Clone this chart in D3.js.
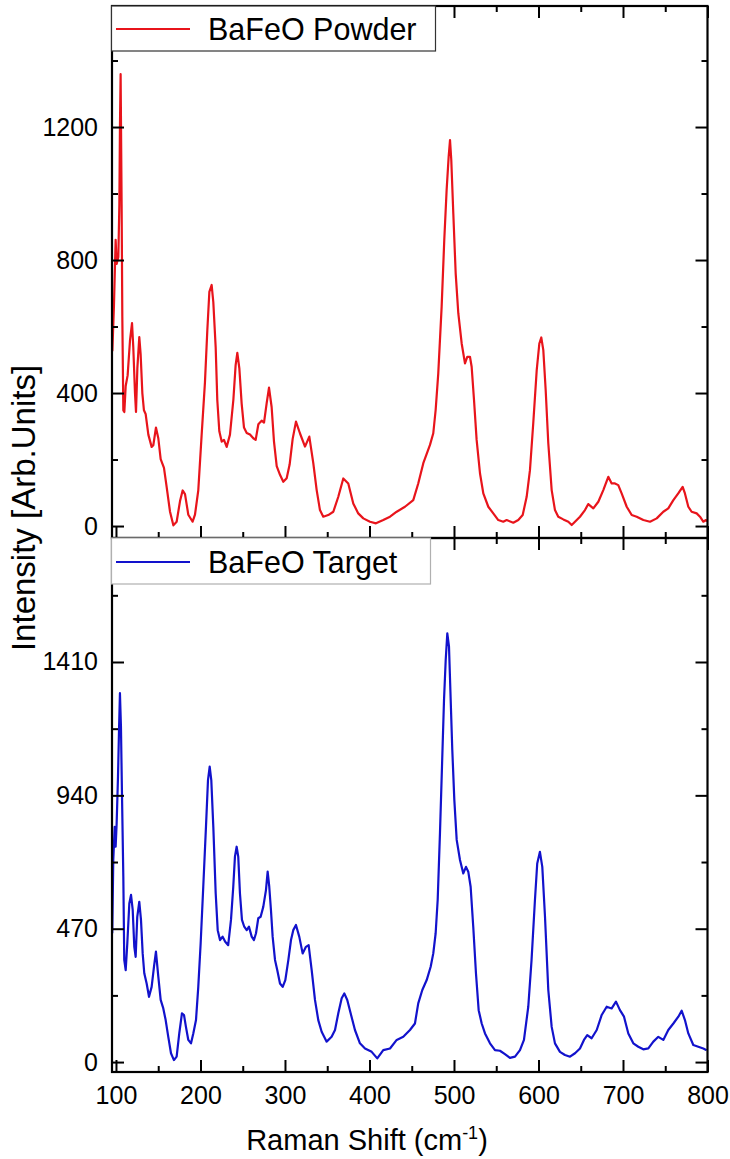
<!DOCTYPE html>
<html>
<head>
<meta charset="utf-8">
<script src="https://cdn.jsdelivr.net/npm/d3@7"></script>
<style>
  html, body { margin: 0; padding: 0; background: #fff; }
  svg { display: block; }
  text { font-family: "Liberation Sans", Arial, sans-serif; fill: #000; }
</style>
</head>
<body>
<svg id="chart" width="730" height="1159"></svg>
<script>
// Raman spectrum of BaFeO powder (upper panel)
const powderShift = [95.7, 97.6, 99.6, 100.8, 102.8, 104.0, 104.7, 105.5, 106.7, 107.5, 108.7, 109.9, 111.5, 113.8, 116.6, 119.0, 120.5, 122.5, 123.7, 125.3, 127.6, 129.2, 131.2, 133.1, 135.1, 138.3, 142.2, 144.2, 147.3, 150.1, 152.9, 156.8, 160.0, 163.9, 167.9, 171.8, 175.8, 178.9, 181.7, 185.6, 190.7, 193.5, 197.4, 201.4, 205.3, 208.1, 210.5, 213.2, 215.2, 218.0, 219.9, 222.3, 225.1, 227.8, 231.0, 234.9, 238.9, 241.6, 243.6, 246.0, 248.7, 251.5, 254.7, 258.6, 262.5, 265.3, 268.5, 272.4, 275.2, 278.3, 281.1, 284.2, 287.0, 290.2, 294.1, 298.0, 302.0, 305.5, 309.1, 313.0, 317.7, 323.7, 328.8, 333.5, 337.5, 341.4, 345.3, 351.2, 357.2, 363.1, 369.0, 374.9, 380.8, 386.7, 392.7, 400.6, 407.7, 416.3, 424.3, 432.2, 442.0, 451.8, 457.7, 463.7, 471.6, 475.5, 478.3, 481.4, 485.4, 488.5, 491.3, 493.7, 495.3, 496.8, 499.2, 502.0, 505.1, 509.1, 513.0, 515.7, 518.9, 520.9, 523.7, 526.8, 530.8, 534.7, 540.6, 546.5, 552.4, 558.3, 562.3, 570.2, 576.1, 581.3, 586.0, 589.9, 593.8, 597.9, 601.0, 603.3, 605.7, 608.5, 611.6, 615.6, 619.5, 623.4, 629.4, 635.3, 639.3, 643.2, 649.1, 655.0, 658.9, 664.9, 670.8, 676.7, 682.6, 686.6, 690.5, 694.4, 698.4, 704.4, 710.3, 716.2, 724.1, 732.0, 739.9, 747.7, 753.6, 759.6, 765.4, 770.6, 773.3, 777.3, 781.2, 787.2, 791.1, 795.0, 798.2, 800.0];
const powderIntensity = [526, 662, 861, 788, 809, 966, 1197, 1359, 966, 631, 348, 343, 421, 453, 558, 610, 537, 400, 343, 474, 568, 516, 400, 348, 337, 275, 238, 243, 296, 264, 201, 175, 117, 44, 2, 13, 75, 107, 96, 34, 13, 34, 107, 275, 432, 589, 704, 725, 673, 537, 379, 285, 254, 259, 238, 275, 379, 484, 521, 474, 369, 296, 280, 275, 264, 259, 306, 317, 311, 369, 416, 358, 254, 180, 154, 133, 144, 185, 262, 314, 279, 239, 269, 189, 108, 48, 28, 33, 43, 88, 143, 128, 68, 38, 23, 13, 8, 18, 28, 43, 58, 78, 128, 189, 244, 279, 349, 459, 660, 860, 1011, 1111, 1161, 1101, 940, 760, 640, 549, 489, 509, 509, 479, 379, 259, 158, 98, 58, 38, 18, 13, 18, 10, 18, 33, 88, 168, 309, 469, 549, 567, 529, 409, 249, 108, 48, 28, 20, 13, 3, 13, 28, 48, 66, 53, 73, 108, 148, 128, 128, 123, 98, 58, 33, 28, 18, 13, 23, 43, 53, 78, 98, 118, 98, 58, 43, 38, 28, 13, 18, 15];

// Raman spectrum of BaFeO target (lower panel)
const targetShift = [95.6, 96.8, 98.5, 99.6, 100.8, 102.4, 103.6, 104.7, 105.9, 107.1, 108.7, 109.8, 111.5, 113.4, 115.8, 117.8, 119.8, 121.7, 123.3, 125.2, 127.6, 129.6, 131.6, 133.5, 136.3, 139.1, 142.2, 145.0, 147.3, 150.1, 152.9, 156.0, 158.8, 161.9, 165.1, 168.6, 171.8, 174.9, 178.1, 180.5, 182.8, 185.6, 188.8, 191.5, 194.7, 197.4, 200.2, 203.3, 206.5, 208.9, 210.9, 212.8, 215.2, 218.0, 220.4, 223.1, 226.2, 229.3, 232.8, 236.1, 238.8, 240.8, 242.8, 244.7, 246.7, 249.1, 251.8, 254.7, 257.4, 260.6, 263.3, 265.7, 268.4, 271.2, 274.3, 277.5, 279.5, 281.4, 283.4, 285.4, 288.2, 290.9, 294.1, 297.3, 300.4, 304.0, 307.1, 309.8, 313.0, 316.9, 320.9, 324.8, 328.0, 331.6, 335.5, 339.4, 343.4, 349.3, 355.2, 359.2, 363.1, 367.1, 370.2, 373.7, 377.7, 382.8, 388.7, 394.7, 402.6, 409.2, 416.3, 424.3, 432.2, 440.0, 447.9, 453.8, 457.7, 462.5, 467.7, 472.4, 475.5, 478.3, 480.7, 483.4, 485.8, 488.2, 490.2, 492.1, 494.1, 496.1, 498.0, 500.4, 503.2, 507.1, 511.0, 514.2, 516.9, 519.7, 522.8, 526.0, 529.2, 532.8, 536.7, 542.6, 548.5, 554.4, 560.3, 566.2, 572.2, 578.1, 582.8, 587.9, 591.8, 595.8, 598.5, 601.7, 604.5, 607.7, 611.6, 615.6, 619.5, 625.4, 631.3, 637.3, 643.2, 649.1, 653.8, 657.7, 662.9, 668.9, 674.8, 680.7, 686.6, 691.7, 696.4, 701.2, 706.3, 712.2, 718.1, 724.0, 730.0, 735.9, 741.8, 747.7, 753.6, 759.6, 765.5, 769.4, 773.3, 777.3, 783.2, 789.1, 795.0, 799.0];
const targetIntensity = [454, 712, 829, 759, 841, 1006, 1170, 1300, 1182, 947, 653, 360, 324, 418, 559, 589, 536, 406, 371, 512, 565, 501, 383, 313, 277, 230, 265, 336, 389, 301, 219, 189, 148, 89, 31, 7, 19, 101, 172, 166, 124, 78, 66, 101, 148, 265, 418, 618, 829, 994, 1041, 994, 829, 595, 465, 430, 442, 424, 412, 501, 618, 724, 759, 724, 595, 501, 477, 465, 477, 442, 430, 454, 507, 512, 547, 606, 671, 618, 536, 442, 360, 324, 277, 265, 289, 360, 430, 465, 483, 442, 383, 406, 412, 324, 219, 148, 107, 72, 89, 113, 172, 225, 242, 219, 172, 113, 66, 48, 36, 13, 42, 48, 78, 89, 113, 136, 207, 254, 289, 336, 383, 454, 571, 806, 1041, 1276, 1417, 1511, 1464, 1276, 1100, 924, 783, 712, 665, 688, 671, 618, 477, 313, 183, 136, 101, 66, 42, 40, 28, 15, 19, 42, 78, 195, 360, 571, 700, 741, 688, 512, 254, 124, 66, 36, 25, 19, 31, 48, 78, 95, 84, 113, 166, 195, 189, 213, 183, 160, 101, 66, 54, 45, 48, 72, 89, 78, 113, 136, 160, 181, 148, 101, 60, 54, 48, 42];

// Axis ticks
const shiftTicks = [100, 200, 300, 400, 500, 600, 700, 800];
const shiftMinorTicks = [150, 250, 350, 450, 550, 650, 750];
const powderTicks = [0, 400, 800, 1200];
const powderMinorTicks = [200, 600, 1000, 1400];
const targetTicks = [0, 470, 940, 1410];
const targetMinorTicks = [235, 705, 1175, 1645];

const seriesNames = ["BaFeO Powder", "BaFeO Target"];
const seriesColors = ["#e8141b", "#1212cc"];

const svg = d3.select("#chart");
const fmt = d3.format("d");

const plotLeft = 112, plotRight = 707.5;
const x = d3.scaleLinear().domain([95.3, 800]).range([plotLeft, plotRight]);

const panels = [
  {
    top: 6, bottom: 538,
    y: d3.scaleLinear().domain([-36, 1564]).range([538, 6]),
    shift: powderShift, intensity: powderIntensity,
    ticks: powderTicks, minor: powderMinorTicks,
    name: seriesNames[0], color: seriesColors[0],
    legend: { w: 324, h: 45, stroke: "#333", lineY: 29, textY: 39.5 },
    showX: false
  },
  {
    top: 538, bottom: 1072,
    y: d3.scaleLinear().domain([-35, 1847]).range([1072, 538]),
    shift: targetShift, intensity: targetIntensity,
    ticks: targetTicks, minor: targetMinorTicks,
    name: seriesNames[1], color: seriesColors[1],
    legend: { w: 319, h: 46, stroke: "#b0b0b0", lineY: 562, textY: 573 },
    showX: true
  }
];

const MAJOR = 12, MINOR = 6;

panels.forEach((p, i) => {
  const g = svg.append("g");
  const clipId = "clip" + i;
  svg.append("clipPath").attr("id", clipId)
    .append("rect")
    .attr("x", plotLeft).attr("y", p.top)
    .attr("width", plotRight - plotLeft).attr("height", p.bottom - p.top);

  // spectrum
  const pts = p.shift.map((s, k) => [s, p.intensity[k]]);
  const line = d3.line().x(d => x(d[0])).y(d => p.y(d[1]));
  g.append("path")
    .datum(pts)
    .attr("clip-path", `url(#${clipId})`)
    .attr("fill", "none")
    .attr("stroke", p.color)
    .attr("stroke-width", 2.2)
    .attr("stroke-linejoin", "round")
    .attr("d", line);

  // major ticks, pointing into the plot on all four sides
  const axes = [
    { gen: d3.axisLeft(p.y), tr: `translate(${plotLeft},0)`, vals: p.ticks, labels: true },
    { gen: d3.axisRight(p.y), tr: `translate(${plotRight},0)`, vals: p.ticks, labels: false },
    { gen: d3.axisTop(x), tr: `translate(0,${p.top})`, vals: shiftTicks, labels: false },
    { gen: d3.axisBottom(x), tr: `translate(0,${p.bottom})`, vals: shiftTicks, labels: p.showX }
  ];
  axes.forEach(a => {
    const ax = a.gen.tickValues(a.vals).tickSizeInner(-MAJOR).tickSizeOuter(0)
      .tickPadding(a.labels ? 14 : 0)
      .tickFormat(a.labels ? fmt : "");
    const ga = g.append("g").attr("transform", a.tr).call(ax);
    ga.select(".domain").remove();
    ga.selectAll(".tick line").attr("stroke", "#000").attr("stroke-width", 2);
    ga.selectAll("text").style("font-size", "25px");
  });

  // minor ticks
  const minorDefs = [
    { gen: d3.axisLeft(p.y).tickValues(p.minor), tr: `translate(${plotLeft},0)` },
    { gen: d3.axisRight(p.y).tickValues(p.minor), tr: `translate(${plotRight},0)` },
    { gen: d3.axisTop(x).tickValues(shiftMinorTicks), tr: `translate(0,${p.top})` },
    { gen: d3.axisBottom(x).tickValues(shiftMinorTicks), tr: `translate(0,${p.bottom})` }
  ];
  minorDefs.forEach(m => {
    const gm = g.append("g").attr("transform", m.tr)
      .call(m.gen.tickSizeInner(-MINOR).tickSizeOuter(0).tickFormat(""));
    gm.select(".domain").remove();
    gm.selectAll(".tick line").attr("stroke", "#000").attr("stroke-width", 2);
  });

  // frame
  g.append("rect")
    .attr("x", plotLeft).attr("y", p.top)
    .attr("width", plotRight - plotLeft).attr("height", p.bottom - p.top)
    .attr("fill", "none").attr("stroke", "#000").attr("stroke-width", 2.2);
});

// legends, drawn over the frames
panels.forEach(p => {
  const L = p.legend;
  const lg = svg.append("g");
  lg.append("rect")
    .attr("x", 111.5).attr("y", p.top)
    .attr("width", L.w).attr("height", L.h)
    .attr("fill", "#fff").attr("stroke", L.stroke).attr("stroke-width", 1.2);
  lg.append("line")
    .attr("x1", 116).attr("x2", 190)
    .attr("y1", L.lineY).attr("y2", L.lineY)
    .attr("stroke", p.color).attr("stroke-width", 2.2);
  lg.append("text")
    .attr("x", 208).attr("y", L.textY)
    .style("font-size", "30.5px")
    .text(p.name);
});

// axis titles
const xt = svg.append("text")
  .attr("x", 367).attr("y", 1150)
  .attr("text-anchor", "middle")
  .style("font-size", "29px");
xt.append("tspan").text("Raman Shift (cm");
xt.append("tspan").attr("dy", -11).style("font-size", "18px").text("-1");
xt.append("tspan").attr("dy", 11).text(")");

svg.append("text")
  .attr("transform", "translate(35,508) rotate(-90)")
  .attr("text-anchor", "middle")
  .style("font-size", "33px")
  .text("Intensity [Arb.Units]");
</script>
</body>
</html>
